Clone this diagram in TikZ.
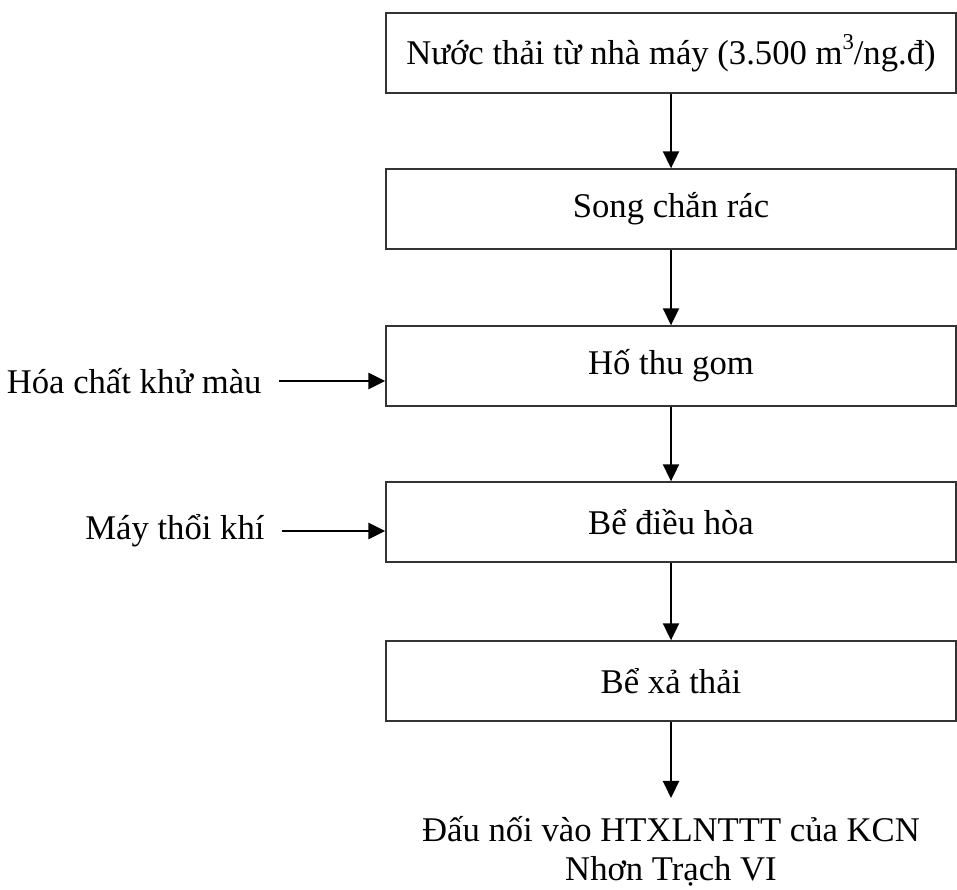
\documentclass[tikz,border=0pt]{standalone}
\usepackage{fontspec}
\setmainfont{Liberation Serif}
\usetikzlibrary{arrows.meta}

\newcommand{\cubic}{\raisebox{0.42em}{\fontsize{8.5pt}{8.5pt}\selectfont 3}}

\begin{document}
\begin{tikzpicture}[
  x=0.375pt,
  y=-0.375pt,
  >={Triangle[length=6.4pt,width=6pt]},
  font=\fontsize{13pt}{16pt}\selectfont,
  stage/.style={
    draw=black!80,
    line width=0.5pt,
    minimum width=213.75pt,
    minimum height=30pt,
    inner sep=0pt
  },
  feed/.style={anchor=east, inner sep=0pt},
  outlet/.style={
    anchor=north,
    align=center,
    font=\fontsize{13pt}{14.6pt}\selectfont,
    inner xsep=0pt,
    inner ysep=6.8pt
  },
  flow/.style={->, draw=black, line width=0.8pt},
  sideflow/.style={->, draw=black, line width=1pt}
]
\useasboundingbox (0,0) rectangle (957,889);

% ---------------------------------------------------------------------------
% Treatment line
% ---------------------------------------------------------------------------
\node[stage] (nuocthai) at (671,53) {Nước thải từ nhà máy (3.500 m\cubic/ng.đ)};
\node[stage] (songchan) at (671,209) {Song chắn rác};
\node[stage] (hothugom) at (671,366) {Hố thu gom};
\node[stage] (dieuhoa) at (671,522) {Bể điều hòa};
\node[stage] (xathai) at (671,681) {Bể xả thải};
\node[outlet] (daunoi) at (671,798) {Đấu nối vào HTXLNTTT của KCN\\Nhơn Trạch VI};

\draw[flow] (nuocthai) -- (songchan);
\draw[flow] (songchan) -- (hothugom);
\draw[flow] (hothugom) -- (dieuhoa);
\draw[flow] (dieuhoa) -- (xathai);
\draw[flow] (xathai) -- (daunoi.north);

% ---------------------------------------------------------------------------
% Side inputs
% ---------------------------------------------------------------------------
\node[feed] (hoachat) at (262,381) {Hóa chất khử màu};
\node[feed] (maythoi) at (265,531) {Máy thổi khí};

\draw[sideflow] ([xshift=6.4pt]hoachat.east) -- (hoachat.east -| hothugom.west);
\draw[sideflow] ([xshift=6.4pt]maythoi.east) -- (maythoi.east -| dieuhoa.west);

\end{tikzpicture}
\end{document}
